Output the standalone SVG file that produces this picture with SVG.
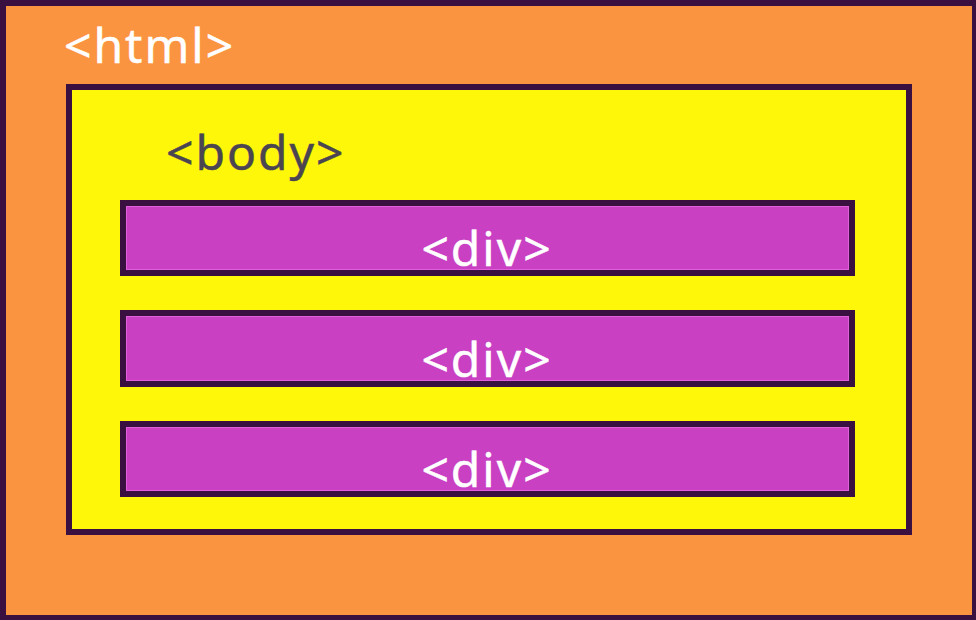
<svg xmlns="http://www.w3.org/2000/svg" width="976" height="620" viewBox="0 0 976 620">
<style>
.lbl{font-family:"Noto Sans","Open Sans","DejaVu Sans",sans-serif;font-size:48px;letter-spacing:2px;stroke-width:0.5}
.w{fill:#ffffff;stroke:#ffffff}
.g{fill:#4a4550;stroke:#4a4550}
.div{fill:#c940c3;stroke:#3a1040;stroke-width:6}
.divin{fill:none;stroke:#e060dc;stroke-width:1}
</style>
<rect x="0" y="0" width="976" height="620" fill="#3a1040"/>
<g id="html">
<rect x="6" y="6" width="966" height="609" fill="#fb9441"/>
<text class="lbl w" x="64" y="63">&lt;html&gt;</text>
</g>
<g id="body">
<rect x="69" y="87" width="840" height="445" fill="#fff70a" stroke="#3a1040" stroke-width="6"/>
<text class="lbl g" x="166" y="170">&lt;body&gt;</text>
</g>
<g id="div1">
<rect class="div" x="123" y="203" width="729" height="70"/>
<rect class="divin" x="126.5" y="206.5" width="722" height="63"/>
<text class="lbl w" x="487" y="266" text-anchor="middle">&lt;div&gt;</text>
</g>
<g id="div2">
<rect class="div" x="123" y="313" width="729" height="71"/>
<rect class="divin" x="126.5" y="316.5" width="722" height="64"/>
<text class="lbl w" x="487" y="377" text-anchor="middle">&lt;div&gt;</text>
</g>
<g id="div3">
<rect class="div" x="123" y="424" width="729" height="70"/>
<rect class="divin" x="126.5" y="427.5" width="722" height="63"/>
<text class="lbl w" x="487" y="487" text-anchor="middle">&lt;div&gt;</text>
</g>
<g id="connectors"></g>
</svg>
